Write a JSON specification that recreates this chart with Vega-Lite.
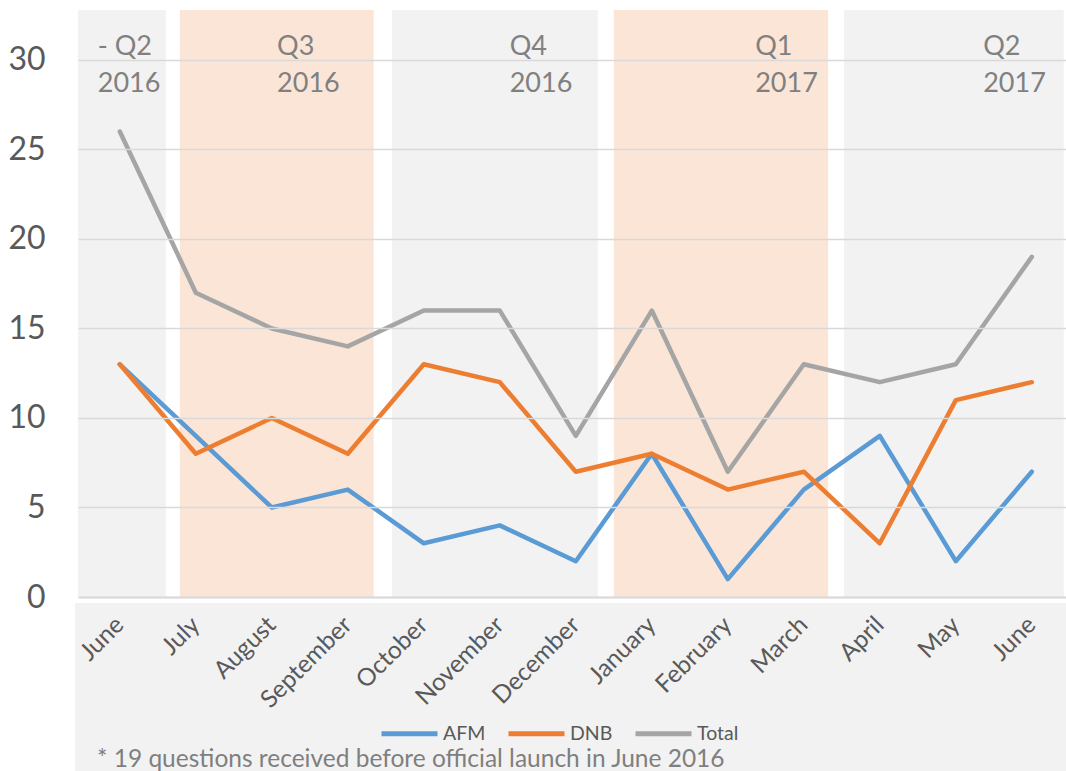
{
  "$schema": "https://vega.github.io/schema/vega-lite/v6.json",
  "width": 988,
  "height": 587,
  "autosize": {"type": "none"},
  "padding": {"left": 78, "top": 10, "right": 0, "bottom": 174},
  "background": "white",
  "config": {"view": {"stroke": null}, "font": "Lato"},
  "datasets": {
    "quarters": [
      {"q": "Q2", "label": "- Q2\n2016", "start": -0.55, "end": 0.605, "lx": -0.29},
      {"q": "Q3", "label": "Q3\n2016", "start": 0.79, "end": 3.34, "lx": 2.07},
      {"q": "Q4", "label": "Q4\n2016", "start": 3.58, "end": 6.29, "lx": 5.13},
      {"q": "Q1", "label": "Q1\n2017", "start": 6.5, "end": 9.32, "lx": 8.36},
      {"q": "Q2", "label": "Q2\n2017", "start": 9.53, "end": 12.42, "lx": 11.36}
    ],
    "months": [
      {"i": 0, "month": "June", "AFM": 13, "DNB": 13, "Total": 26},
      {"i": 1, "month": "July", "AFM": 9, "DNB": 8, "Total": 17},
      {"i": 2, "month": "August", "AFM": 5, "DNB": 10, "Total": 15},
      {"i": 3, "month": "September", "AFM": 6, "DNB": 8, "Total": 14},
      {"i": 4, "month": "October", "AFM": 3, "DNB": 13, "Total": 16},
      {"i": 5, "month": "November", "AFM": 4, "DNB": 12, "Total": 16},
      {"i": 6, "month": "December", "AFM": 2, "DNB": 7, "Total": 9},
      {"i": 7, "month": "January", "AFM": 8, "DNB": 8, "Total": 16},
      {"i": 8, "month": "February", "AFM": 1, "DNB": 6, "Total": 7},
      {"i": 9, "month": "March", "AFM": 6, "DNB": 7, "Total": 13},
      {"i": 10, "month": "April", "AFM": 9, "DNB": 3, "Total": 12},
      {"i": 11, "month": "May", "AFM": 2, "DNB": 11, "Total": 13},
      {"i": 12, "month": "June", "AFM": 7, "DNB": 12, "Total": 19}
    ],
    "note": [{"text": "* 19 questions received before official launch in June 2016"}]
  },
  "layer": [
    {
      "data": {"name": "quarters"},
      "transform": [{"filter": "datum.q == 'Q2' || datum.q == 'Q4'"}],
      "mark": {"type": "rect", "color": "#f2f2f2"},
      "encoding": {
        "x": {"field": "start", "type": "quantitative"},
        "x2": {"field": "end"},
        "y": {"datum": 0, "type": "quantitative"},
        "y2": {"datum": 32.79}
      }
    },
    {
      "data": {"name": "quarters"},
      "transform": [{"filter": "datum.q == 'Q1' || datum.q == 'Q3'"}],
      "mark": {"type": "rect", "color": "#fbe5d6"},
      "encoding": {
        "x": {"field": "start", "type": "quantitative"},
        "x2": {"field": "end"},
        "y": {"datum": 0, "type": "quantitative"},
        "y2": {"datum": 32.79}
      }
    },
    {
      "data": {"name": "quarters"},
      "mark": {"type": "text", "align": "left", "baseline": "alphabetic", "lineBreak": "\n", "lineHeight": 37, "fontSize": 27, "color": "#808080"},
      "encoding": {
        "x": {"field": "lx", "type": "quantitative"},
        "y": {"datum": 30.3, "type": "quantitative"},
        "text": {"field": "label", "type": "nominal"}
      }
    },
    {
      "data": {"name": "note"},
      "mark": {"type": "rect", "color": "#f2f2f2"},
      "encoding": {
        "x": {"datum": -0.59, "type": "quantitative"},
        "x2": {"datum": 12.45},
        "y": {"datum": -0.34, "type": "quantitative"},
        "y2": {"datum": -9.75}
      }
    },
    {
      "data": {"name": "note"},
      "mark": {"type": "text", "align": "left", "baseline": "alphabetic", "fontSize": 24.5, "color": "#7f7f7f"},
      "encoding": {
        "x": {"datum": -0.3, "type": "quantitative"},
        "y": {"datum": -9.5, "type": "quantitative"},
        "text": {"field": "text", "type": "nominal"}
      }
    },
    {
      "data": {"name": "months"},
      "transform": [{"fold": ["AFM", "DNB", "Total"], "as": ["series", "value"]}],
      "mark": {"type": "line", "strokeWidth": 4.5, "strokeJoin": "round", "strokeCap": "round"},
      "encoding": {
        "x": {
          "field": "i",
          "type": "quantitative",
          "scale": {"domain": [-0.55, 12.45], "nice": false, "zero": false},
          "axis": {
            "values": [0, 1, 2, 3, 4, 5, 6, 7, 8, 9, 10, 11, 12],
            "labelExpr": "['June','July','August','September','October','November','December','January','February','March','April','May','June'][datum.value]",
            "labelAngle": -45,
            "labelAlign": "right",
            "labelBaseline": "middle",
            "labelFontSize": 24.5,
            "labelColor": "#595959",
            "labelPadding": 24,
            "labelFlush": false,
            "labelOverlap": false,
            "labelBound": false,
            "ticks": false,
            "grid": false,
            "domainColor": "#d9d9d9",
            "domainWidth": 2,
            "title": null,
            "zindex": 1
          }
        },
        "y": {
          "field": "value",
          "type": "quantitative",
          "scale": {"domain": [0, 32.79], "nice": false, "zero": false},
          "axis": {
            "values": [0, 5, 10, 15, 20, 25, 30],
            "grid": true,
            "gridColor": "#d9d9d9",
            "gridWidth": 1.5,
            "domain": false,
            "ticks": false,
            "labelFontSize": 32,
            "labelColor": "#595959",
            "labelPadding": 33,
            "title": null,
            "zindex": 1
          }
        },
        "color": {
          "field": "series",
          "type": "nominal",
          "scale": {"domain": ["AFM", "DNB", "Total"], "range": ["#5b9bd5", "#ed7d31", "#a5a5a5"]},
          "legend": {
            "title": null,
            "orient": "none",
            "legendX": 301,
            "legendY": 693,
            "direction": "horizontal",
            "symbolType": "stroke",
            "symbolStrokeWidth": 5,
            "symbolSize": 3136,
            "labelFontSize": 19.5,
            "labelColor": "#595959",
            "labelOffset": 3,
            "columnPadding": 12,
            "padding": 0
          }
        }
      }
    }
  ]
}
